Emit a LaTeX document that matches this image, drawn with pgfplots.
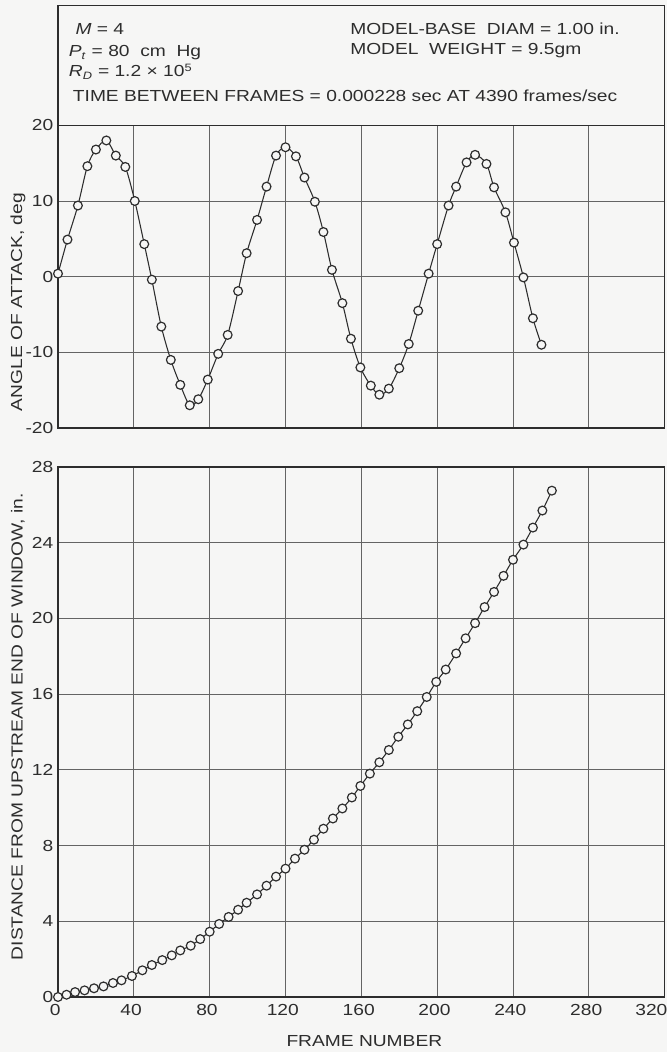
\documentclass[border=0pt]{standalone}
\usepackage{fontspec}
\setmainfont[FakeStretch=1.2]{Liberation Sans}
\usepackage{pgfplots}
\pgfplotsset{compat=1.18}
\definecolor{bg}{RGB}{246,246,245}
\definecolor{ink}{RGB}{45,45,45}
\definecolor{gridc}{RGB}{100,100,100}

\pgfplotstableread{
x y
0 0.4
5 4.9
10.5 9.4
15.5 14.6
20 16.8
25.5 18.0
30.5 16.0
35.5 14.5
40.5 10.0
45.5 4.3
49.5 -0.4
54.5 -6.6
59.5 -11.0
64.5 -14.3
69.5 -17.0
74 -16.2
79 -13.6
84.5 -10.2
89.5 -7.7
95 -1.9
99.5 3.1
105 7.5
110 11.9
115 16.0
120 17.1
125.5 15.9
130 13.1
135.5 9.9
140 5.9
144.5 0.9
150 -3.5
154.5 -8.2
159.5 -12.0
165 -14.4
169.5 -15.6
174.5 -14.8
180 -12.1
185 -8.9
190 -4.5
195.5 0.4
200 4.3
206 9.4
210 11.9
215.5 15.1
220 16.1
226 14.9
230 11.8
236 8.5
240.5 4.5
245.5 -0.1
250.5 -5.5
255 -9.0
}\angletable

\pgfplotstableread{
x y
0 0
4.5 0.12
9 0.26
14 0.35
19 0.46
24 0.56
29 0.74
33.5 0.88
39 1.11
44.5 1.41
49.5 1.69
55 1.95
60 2.20
64.5 2.46
70 2.71
75 3.06
80 3.45
85 3.86
90 4.23
95 4.61
99.5 4.98
105 5.42
110 5.88
115 6.36
120 6.78
125 7.31
130 7.78
135 8.31
140 8.89
145 9.43
150 9.96
155 10.54
159.5 11.15
164.5 11.8
169.5 12.4
174.5 13.05
179.5 13.75
184.5 14.4
189.5 15.1
194.5 15.85
199.5 16.65
204.5 17.3
210 18.15
215 18.95
220 19.75
225 20.6
230 21.4
235 22.25
240 23.1
245.5 23.9
250.5 24.8
255.5 25.7
260.5 26.75
}\disttable

\pgfplotsset{
  common/.style={
    scale only axis, width=455pt,
    xmin=0, xmax=320, xtick={0,40,...,320},
    grid=major,
    major grid style={gridc, line width=0.6pt},
    axis line style={ink, line width=1pt},
    major tick length=0pt,
    /pgf/number format/assume math mode=true,
    tick label style={text=ink},
    label style={text=ink},
    clip=false,
  },
  series/.style={ink, line width=0.8pt, smooth, mark=*, mark size=3.3pt,
    mark options={fill=bg, draw=ink, line width=0.9pt, solid}},
}

\begin{document}
\begin{tikzpicture}[font=\fontsize{12}{14}\selectfont]
\fill[bg] (-43.5pt,-41.25pt) rectangle (456.75pt,747.75pt);

\begin{axis}[common, at={(0,0)}, anchor=south west, height=397.5pt,
  ymin=0, ymax=28, ytick={0,4,...,28},
  xticklabels={0,40,80,120,160,200,240,280,{\hspace*{-16pt}320}},
  xticklabel style={yshift=-2pt, xshift=-2pt},
  xlabel={FRAME NUMBER},
  xlabel style={at={(axis description cs:0.505,-0.083)}, anchor=center},
  ylabel={DISTANCE FROM UPSTREAM END OF WINDOW, in.},
  ylabel style={at={(axis description cs:-0.066,0.51)}, anchor=center},
]
\addplot[series] table[x=x, y=y] {\disttable};
\end{axis}

\begin{axis}[common, at={(0,426.75pt)}, anchor=south west, height=227pt,
  ymin=-20, ymax=20, ytick={-20,-10,...,20},
  xticklabels={},
  ylabel={ANGLE OF ATTACK, deg},
  ylabel style={at={(axis description cs:-0.066,0.416)}, anchor=center},
]
\addplot[series] table[x=x, y=y] {\angletable};
\end{axis}

\draw[ink, line width=0.9pt] (0,653.75pt) rectangle (455pt,743.75pt);
\begin{scope}[every node/.style={anchor=base west, inner sep=0pt, text=ink}]
\node at (13pt,722pt) {\textit{M} = 4};
\node at (8pt,705pt) {\textit{P}\textsubscript{\textit{t}} = 80\ \ cm\ \ Hg};
\node at (8pt,690pt) {\textit{R}\textsubscript{\textit{D}} = 1.2 × 10\textsuperscript{5}};
\node at (11pt,671.25pt) {TIME BETWEEN FRAMES = 0.000228 sec AT 4390 frames/sec};
\node at (219pt,722pt) {MODEL-BASE\ \ DIAM = 1.00 in.};
\node at (219pt,706.5pt) {MODEL\ \ WEIGHT = 9.5gm};
\end{scope}

\pgfresetboundingbox
\path (-43.5pt,-41.25pt) rectangle (456.75pt,747.75pt);
\end{tikzpicture}
\end{document}
